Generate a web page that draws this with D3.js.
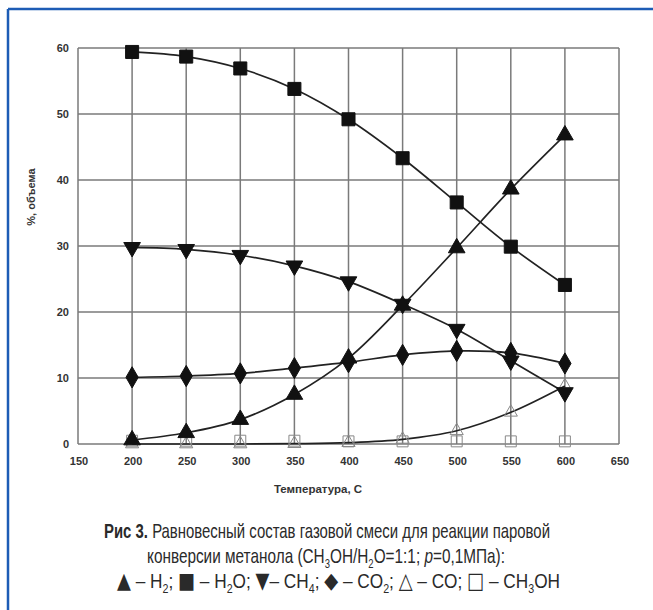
<!DOCTYPE html>
<html lang="ru">
<head>
    <meta charset="UTF-8">
    <title>Рис 3</title>
    <style>
        body {
            margin: 0;
            background-color: white;
        }

        svg {
            display: block;
        }

        .grid line {
            stroke: #7a7a7a;
            stroke-width: 1.5px;
        }

        .tick-label {
            font-family: "Liberation Sans", Arial, sans-serif;
            font-weight: bold;
            font-size: 11px;
            fill: #333;
        }

        .caption {
            font-family: "Liberation Sans", Arial, sans-serif;
            font-size: 21px;
            fill: #2a2a2a;
        }
    </style>
    <script src="https://d3js.org/d3.v7.min.js"></script>
</head>
<body>

<script>
    // chart values
    const temps = [200, 250, 300, 350, 400, 450, 500, 550, 600];
    const h2 = [0.6, 1.7, 3.7, 7.5, 13.0, 21.0, 29.7, 38.6, 46.8];
    const h2o = [59.4, 58.7, 56.9, 53.8, 49.2, 43.3, 36.6, 29.9, 24.1];
    const ch4 = [29.8, 29.5, 28.6, 27.0, 24.6, 21.2, 17.4, 12.6, 7.8];
    const co2 = [10.1, 10.3, 10.7, 11.5, 12.4, 13.5, 14.1, 13.8, 12.2];
    const co = [0, 0, 0, 0.05, 0.2, 0.7, 2.0, 4.8, 8.8];
    const ch3oh = [0.5, 0.5, 0.5, 0.5, 0.4, 0.4, 0.4, 0.4, 0.4];

    const xTicks = [150, 200, 250, 300, 350, 400, 450, 500, 550, 600, 650];
    const yTicks = [0, 10, 20, 30, 40, 50, 60];

    const width = 653;
    const height = 610;

    const svg = d3.select("body")
                  .append("svg")
                  .attr("width", width)
                  .attr("height", height);

    // blue frame (only top and left edges are visible)
    svg.append("line").attr("x1", 8).attr("x2", width).attr("y1", 9).attr("y2", 9)
       .attr("stroke", "#1d5cb5").attr("stroke-width", 2.5);
    svg.append("line").attr("x1", 8).attr("x2", 8).attr("y1", 9).attr("y2", height)
       .attr("stroke", "#1d5cb5").attr("stroke-width", 2.5);

    const x = d3.scaleLinear().domain([150, 650]).range([78, 619]);
    const y = d3.scaleLinear().domain([0, 60]).range([444, 48]);

    // grid
    const grid = svg.append("g").attr("class", "grid");
    grid.selectAll(".v")
        .data(xTicks)
        .enter()
        .append("line")
        .attr("x1", d => x(d)).attr("x2", d => x(d))
        .attr("y1", y(0)).attr("y2", y(60));
    grid.selectAll(".h")
        .data(yTicks)
        .enter()
        .append("line")
        .attr("x1", x(150)).attr("x2", x(650))
        .attr("y1", d => y(d)).attr("y2", d => y(d));

    // tick labels
    svg.selectAll(".ylab")
       .data(yTicks)
       .enter()
       .append("text")
       .attr("class", "tick-label")
       .attr("x", 69)
       .attr("y", d => y(d) + 4)
       .attr("text-anchor", "end")
       .text(d => d);

    svg.selectAll(".xlab")
       .data(xTicks)
       .enter()
       .append("text")
       .attr("class", "tick-label")
       .attr("x", d => x(d) + 1)
       .attr("y", 465)
       .attr("text-anchor", "middle")
       .text(d => d);

    // axis titles
    svg.append("text")
       .attr("class", "tick-label")
       .style("font-size", "11px")
       .attr("transform", "translate(35,197) rotate(-90)")
       .attr("text-anchor", "middle")
       .text("%, объема");

    svg.append("text")
       .attr("class", "tick-label")
       .style("font-size", "11.5px")
       .attr("x", 318)
       .attr("y", 493)
       .attr("text-anchor", "middle")
       .text("Температура, С");

    // series
    const series = [
        {values: co, symbol: d3.symbolTriangle, size: 75, fill: "none", stroke: "#888", line: true},
        {values: ch3oh, symbol: d3.symbolSquare, size: 120, fill: "none", stroke: "#888", line: false},
        {values: co2, symbol: d3.symbolDiamond, size: 130, fill: "#111", stroke: "#111", line: true},
        {values: ch4, symbol: d3.symbolTriangle, size: 120, fill: "#111", stroke: "#111", line: true, flip: true},
        {values: h2, symbol: d3.symbolTriangle, size: 120, fill: "#111", stroke: "#111", line: true},
        {values: h2o, symbol: d3.symbolSquare, size: 170, fill: "#111", stroke: "#111", line: true}
    ];

    const line = d3.line()
                   .x(d => x(d[0]))
                   .y(d => y(d[1]))
                   .curve(d3.curveCatmullRom);

    series.filter(s => s.line).forEach(s => {
        svg.append("path")
           .datum(temps.map((t, i) => [t, s.values[i]]))
           .attr("d", line)
           .attr("fill", "none")
           .attr("stroke", "#222")
           .attr("stroke-width", 1.7);
    });

    series.forEach(s => {
        svg.append("g")
           .selectAll("path")
           .data(temps.map((t, i) => [t, s.values[i]]))
           .enter()
           .append("path")
           .attr("d", d3.symbol().type(s.symbol).size(s.size))
           .attr("transform", d => `translate(${x(d[0])},${y(d[1])})` + (s.flip ? " rotate(180)" : ""))
           .attr("fill", s.fill)
           .attr("stroke", s.stroke)
           .attr("stroke-width", 1);
    });

    // caption: each line is a list of [text, style] pieces, squeezed to the reference width
    // styles: b bold, i italic, s subscript, g legend glyph
    const capLines = [
        {x: 104, y: 538, w: 446, parts: [["Рис 3.", "b"], [" Равновесный состав газовой смеси для реакции паровой", ""]]},
        {x: 147, y: 563, w: 358, parts: [["конверсии метанола (CH", ""], ["3", "s"], ["OH/H", ""], ["2", "s"],
                                         ["O=1:1; ", ""], ["p", "i"], ["=0,1МПа):", ""]]},
        {x: 117, y: 588, w: 443, parts: [["▲", "g"], [" – H", ""], ["2", "s"], ["; ", ""], ["■", "g"], [" – H", ""],
                                         ["2", "s"], ["O; ", ""], ["▼", "g"], ["– CH", ""], ["4", "s"], ["; ", ""],
                                         ["◆", "g"], [" – CO", ""], ["2", "s"], ["; ", ""], ["△", "g"],
                                         [" – CO; ", ""], ["□", "g"], [" – CH", ""], ["3", "s"], ["OH", ""]]}
    ];

    capLines.forEach(cl => {
        const t = svg.append("text")
                     .attr("class", "caption")
                     .attr("x", cl.x)
                     .attr("y", cl.y)
                     .attr("textLength", cl.w)
                     .attr("lengthAdjust", "spacingAndGlyphs");
        let low = false;
        cl.parts.forEach(p => {
            const ts = t.append("tspan").text(p[0]);
            if (p[1] === "s") {
                ts.attr("dy", 5).style("font-size", "13px");
                low = true;
            } else if (low) {
                ts.attr("dy", -5);
                low = false;
            }
            if (p[1] === "b") ts.style("font-weight", "bold");
            if (p[1] === "i") ts.style("font-style", "italic");
            if (p[1] === "g") ts.style("font-family", "'DejaVu Sans', sans-serif").style("font-size", "22px");
        });
    });
</script>

</body>
</html>
